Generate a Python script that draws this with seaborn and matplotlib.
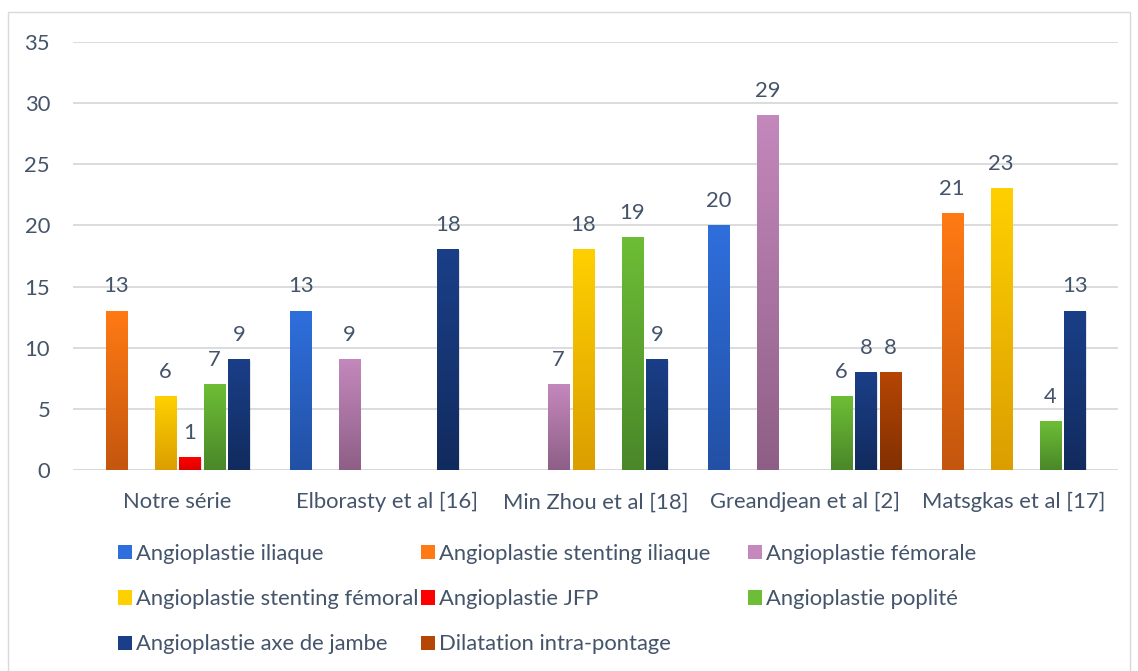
import numpy as np
import pandas as pd
import matplotlib
matplotlib.use("Agg")
import matplotlib.pyplot as plt
import matplotlib.colors as mcolors
from matplotlib.patches import Patch, Rectangle
import seaborn as sns

# ---- data ----
groups = ["Notre série", "Elborasty et al [16]", "Min Zhou et al [18]",
          "Greandjean et al [2]", "Matsgkas et al [17]"]
series = ["Angioplastie iliaque", "Angioplastie stenting iliaque",
          "Angioplastie fémorale", "Angioplastie stenting fémoral",
          "Angioplastie JFP", "Angioplastie poplité",
          "Angioplastie axe de jambe", "Dilatation intra-pontage"]

iliaque          = [0, 13, 0, 20, 0]
stenting_iliaque = [13, 0, 0, 0, 21]
femorale         = [0, 9, 7, 29, 0]
stenting_femoral = [6, 0, 18, 0, 23]
jfp              = [1, 0, 0, 0, 0]
poplite          = [7, 0, 19, 6, 4]
axe_jambe        = [9, 18, 9, 8, 13]
dilatation       = [0, 0, 0, 8, 0]

values = [iliaque, stenting_iliaque, femorale, stenting_femoral,
          jfp, poplite, axe_jambe, dilatation]

# gradient colours (top, bottom) for each series
top_colors = ["#2F6FDD", "#FF7A14", "#C488BC", "#FFD000",
              "#FF0000", "#6DBE36", "#1A3F88", "#B54604"]
bottom_colors = ["#2250A4", "#C4560E", "#8E5F86", "#DB9E00",
                 "#E00000", "#4A8729", "#122B5E", "#823002"]

text_color = "#44546A"
grid_color = "#D9D9D9"
FS = 15.8

df = pd.DataFrame(
    [(g, s, v) for s, vals in zip(series, values) for g, v in zip(groups, vals)],
    columns=["groupe", "serie", "valeur"],
)

sns.set_theme(style="white")
plt.rcParams["font.family"] = ["Lato", "DejaVu Sans"]

fig = plt.figure(figsize=(11.38, 6.71), dpi=100)
ax = fig.add_axes([73 / 1138, 1 - 470 / 671, (1118 - 73) / 1138, (470 - 42) / 671])

sns.barplot(data=df, x="groupe", y="valeur", hue="serie", order=groups,
            hue_order=series, palette=top_colors, width=0.94, gap=0.14,
            legend=False, ax=ax, saturation=1)

grad = np.linspace(0, 1, 256).reshape(-1, 1)
for s_idx, cont in enumerate(ax.containers):
    cmap = mcolors.LinearSegmentedColormap.from_list(
        f"g{s_idx}", [bottom_colors[s_idx], top_colors[s_idx]])
    labels = []
    for bar, v in zip(cont.patches, values[s_idx]):
        bar.set_visible(False)
        if v <= 0:
            labels.append("")
            continue
        x0, w, h = bar.get_x(), bar.get_width(), bar.get_height()
        # soft shadow
        ax.add_patch(Rectangle((x0 + 0.006, -0.12), w, h, facecolor="#000000",
                               alpha=0.10, edgecolor="none", zorder=2))
        ax.imshow(grad, cmap=cmap, origin="lower", aspect="auto",
                  extent=(x0, x0 + w, 0, h), zorder=3, interpolation="bilinear")
        labels.append(str(v))
    ax.bar_label(cont, labels=labels, padding=10.5, fontsize=FS, color=text_color)

ax.set_xlim(-0.5, len(groups) - 0.5)
ax.set_ylim(0, 35)
ax.set_yticks(range(0, 36, 5))
ax.yaxis.grid(True, color=grid_color, linewidth=1.3)
ax.set_axisbelow(True)
for sp in ax.spines.values():
    sp.set_visible(False)
ax.axhline(0, color=grid_color, linewidth=1.3, zorder=1)
ax.tick_params(axis="both", length=0, labelsize=FS, labelcolor=text_color)
ax.tick_params(axis="y", pad=16.5)
ax.tick_params(axis="x", pad=16)
ax.set_xlabel("")
ax.set_ylabel("")

# legend: three columns, filled row by row
handles = [Patch(facecolor=c, edgecolor="none") for c in top_colors]
col_x = [118, 421, 748]
for c in range(3):
    idx = list(range(c, len(series), 3))
    fig.legend([handles[i] for i in idx], [series[i] for i in idx],
               loc="upper left", bbox_to_anchor=(col_x[c] / 1138, 1 - 544 / 671),
               ncol=1, frameon=False, fontsize=FS, labelcolor=text_color,
               handlelength=0.62, handleheight=0.62, handletextpad=0.2,
               labelspacing=1.15, borderpad=0, borderaxespad=0)

# outer frame
fig.patches.append(Rectangle((8 / 1138, -0.01), (1130 - 8) / 1138, 1 - 12 / 671 + 0.01,
                             transform=fig.transFigure, facecolor="none",
                             edgecolor=grid_color, linewidth=1.0))

fig.savefig("out.png", dpi=100)
